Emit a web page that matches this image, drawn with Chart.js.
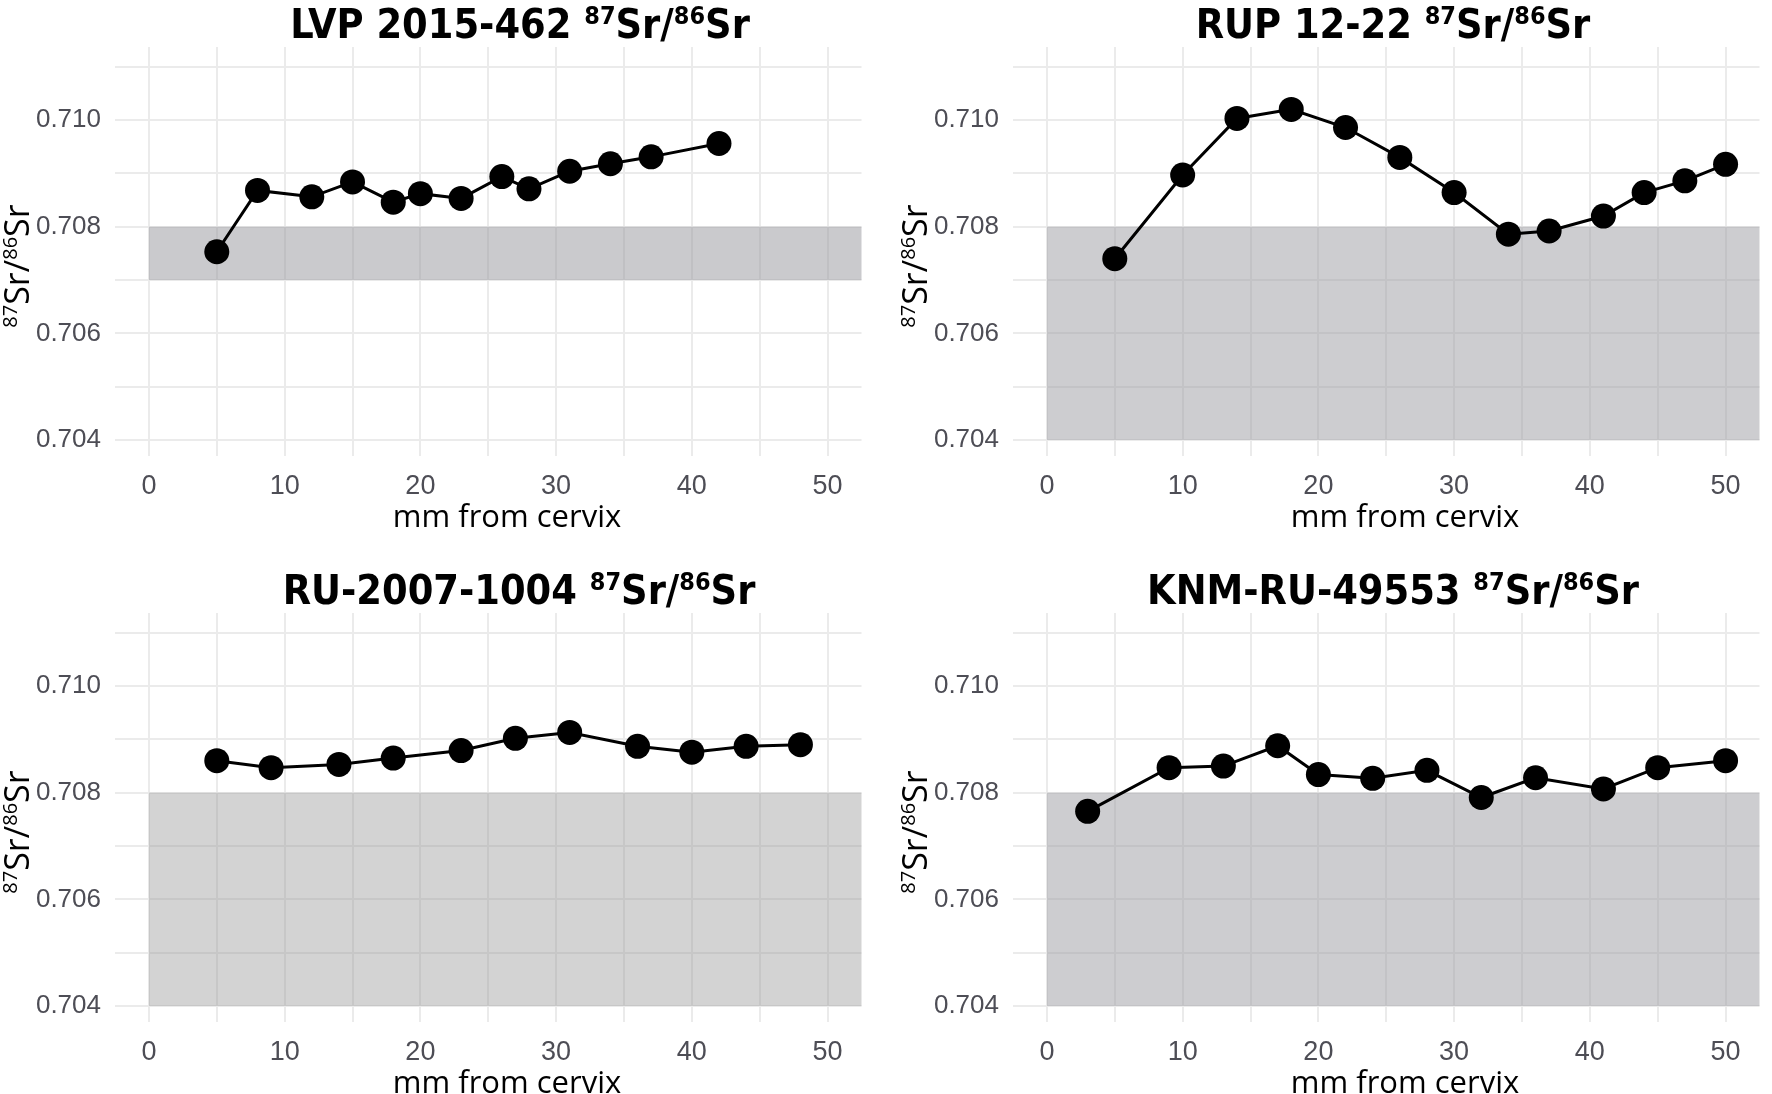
<!DOCTYPE html>
<html>
<head>
<meta charset="utf-8">
<script src="https://cdn.jsdelivr.net/npm/chart.js@4.4.1/dist/chart.umd.min.js"></script>
<style>
html,body{margin:0;padding:0;background:#fff;width:1772px;height:1094px;overflow:hidden;}
.cell{position:absolute;width:874px;height:566px;}
</style>
</head>
<body>
<div class="cell" style="left:0;top:0"><canvas id="c0" width="874" height="566"></canvas></div>
<div class="cell" style="left:898px;top:0"><canvas id="c1" width="874" height="566"></canvas></div>
<div class="cell" style="left:0;top:566px"><canvas id="c2" width="874" height="566"></canvas></div>
<div class="cell" style="left:898px;top:566px"><canvas id="c3" width="874" height="566"></canvas></div>
<script>
// specimen names
const specimens=["LVP 2015-462","RUP 12-22","RU-2007-1004","KNM-RU-49553"];

// mm from cervix
const lvpX=[5,8,12,15,18,20,23,26,28,31,34,37,42];
const rupX=[5,10,14,18,22,26,30,34,37,41,44,47,50];
const ruX=[5,9,14,18,23,27,31,36,40,44,48];
const knmX=[3,9,13,17,20,24,28,32,36,41,45,50];

// 87Sr/86Sr
const lvpY=[0.70753,0.70868,0.70856,0.70884,0.70846,0.70862,0.70853,0.70894,0.70871,0.70904,0.70918,0.70931,0.70956];
const rupY=[0.70740,0.70897,0.71003,0.71020,0.70986,0.70930,0.70864,0.70786,0.70792,0.70820,0.70864,0.70886,0.70917];
const ruY=[0.70860,0.70847,0.70853,0.70865,0.70879,0.70902,0.70913,0.70887,0.70876,0.70887,0.70890];
const knmY=[0.70765,0.70847,0.70850,0.70888,0.70834,0.70827,0.70842,0.70791,0.70828,0.70807,0.70847,0.70860];

// local range band (grey)
const bandLow=[0.707,0.704,0.704,0.704];
const bandHigh=[0.708,0.708,0.708,0.708];
const bandFrom=0;

// axes
const xGrid=[0,5,10,15,20,25,30,35,40,45,50];
const xTickLabels=[0,10,20,30,40,50];
const yGrid=[0.704,0.705,0.706,0.707,0.708,0.709,0.710,0.711];
const yTickLabels=[0.704,0.706,0.708,0.710];
const xLimits=[-2.5,52.5];
const yLimits=[0.7037,0.71137];

const allX=[lvpX,rupX,ruX,knmX];
const allY=[lvpY,rupY,ruY,knmY];

// layout
const titleCenter=[520,495,519,495];
const bandColor=["rgba(150,150,156,0.5)","rgba(150,150,156,0.48)","rgba(150,150,150,0.42)","rgba(150,150,156,0.48)"];
const narrow="'Liberation Sans Narrow','Liberation Sans',sans-serif";
const humanist="'Open Sans','Noto Sans',sans-serif";
const heavy="'DejaVu Sans Condensed','Liberation Sans Narrow','Liberation Sans',sans-serif";

function richText(ctx,parts,x,y,size,weight,family,align){
  let w=0;
  parts.forEach(p=>{
    ctx.font=weight+" "+(p[1]?Math.round(size*0.6):size)+"px "+family;
    w+=ctx.measureText(p[0]).width;
  });
  let cx=align==="center"?x-w/2:x;
  parts.forEach(p=>{
    ctx.font=weight+" "+(p[1]?Math.round(size*0.6):size)+"px "+family;
    ctx.fillText(p[0],cx,p[1]?y-size*0.34:y);
    cx+=ctx.measureText(p[0]).width;
  });
}

const ratio=[["87",true],["Sr/",false],["86",true],["Sr",false]];

const panelText={
  id:"panelText",
  beforeDatasetsDraw(chart,args,o){
    const ctx=chart.ctx,sx=chart.scales.x,sy=chart.scales.y;
    const left=sx.getPixelForValue(bandFrom);
    const top=sy.getPixelForValue(o.high),bottom=sy.getPixelForValue(o.low);
    ctx.save();
    ctx.fillStyle=o.color;
    ctx.fillRect(left,top,sx.getPixelForValue(sx.max)-left,bottom-top);
    ctx.restore();
  },
  afterDraw(chart,args,o){
    const ctx=chart.ctx;
    ctx.save();
    ctx.fillStyle="#000";
    ctx.textBaseline="alphabetic";
    richText(ctx,[[o.name+" ",false]].concat(ratio),o.titleX,38,41,"bold",heavy,"center");
    ctx.font="31px "+humanist;
    ctx.textAlign="center";
    ctx.fillText("mm from cervix",507,527);
    ctx.textAlign="left";
    ctx.translate(29,266);
    ctx.rotate(-Math.PI/2);
    richText(ctx,ratio,0,0,34,"normal",humanist,"center");
    ctx.restore();
  }
};

function drawPanel(i){
  let pts=allX[i].map((x,k)=>({x:x,y:allY[i][k]}));
  new Chart(document.getElementById("c"+i),{
    type:"scatter",
    data:{datasets:[{
      data:pts,
      showLine:true,
      borderColor:"#000",
      borderWidth:3,
      pointRadius:12.5,
      pointHoverRadius:12.5,
      pointBackgroundColor:"#000",
      pointBorderWidth:0
    }]},
    options:{
      responsive:false,
      animation:false,
      devicePixelRatio:1,
      layout:{padding:{left:0,top:47,right:4,bottom:0}},
      plugins:{
        legend:{display:false},
        tooltip:{enabled:false},
        panelText:{name:specimens[i],titleX:titleCenter[i],low:bandLow[i],high:bandHigh[i],color:bandColor[i]}
      },
      scales:{
        x:{
          type:"linear",
          min:xLimits[0],max:xLimits[1],
          afterBuildTicks:s=>{s.ticks=xGrid.map(v=>({value:v}));},
          afterFit:s=>{s.height=110;},
          border:{display:false},
          grid:{color:"#ebebeb",lineWidth:2,drawTicks:false},
          ticks:{
            autoSkip:false,maxRotation:0,padding:14,color:"#4d4d55",
            font:{family:narrow,size:27},
            callback:v=>xTickLabels.includes(v)?String(v):""
          }
        },
        y:{
          type:"linear",
          min:yLimits[0],max:yLimits[1],
          afterBuildTicks:s=>{s.ticks=yGrid.map(v=>({value:v}));},
          afterFit:s=>{s.width=115;},
          border:{display:false},
          grid:{color:"#ebebeb",lineWidth:2,drawTicks:false},
          ticks:{
            autoSkip:false,padding:14,color:"#4d4d55",
            font:{family:narrow,size:26},
            callback:v=>yTickLabels.some(t=>Math.abs(t-v)<1e-7)?v.toFixed(3):""
          }
        }
      }
    },
    plugins:[panelText]
  });
}

[0,1,2,3].forEach(drawPanel);
</script>
</body>
</html>
